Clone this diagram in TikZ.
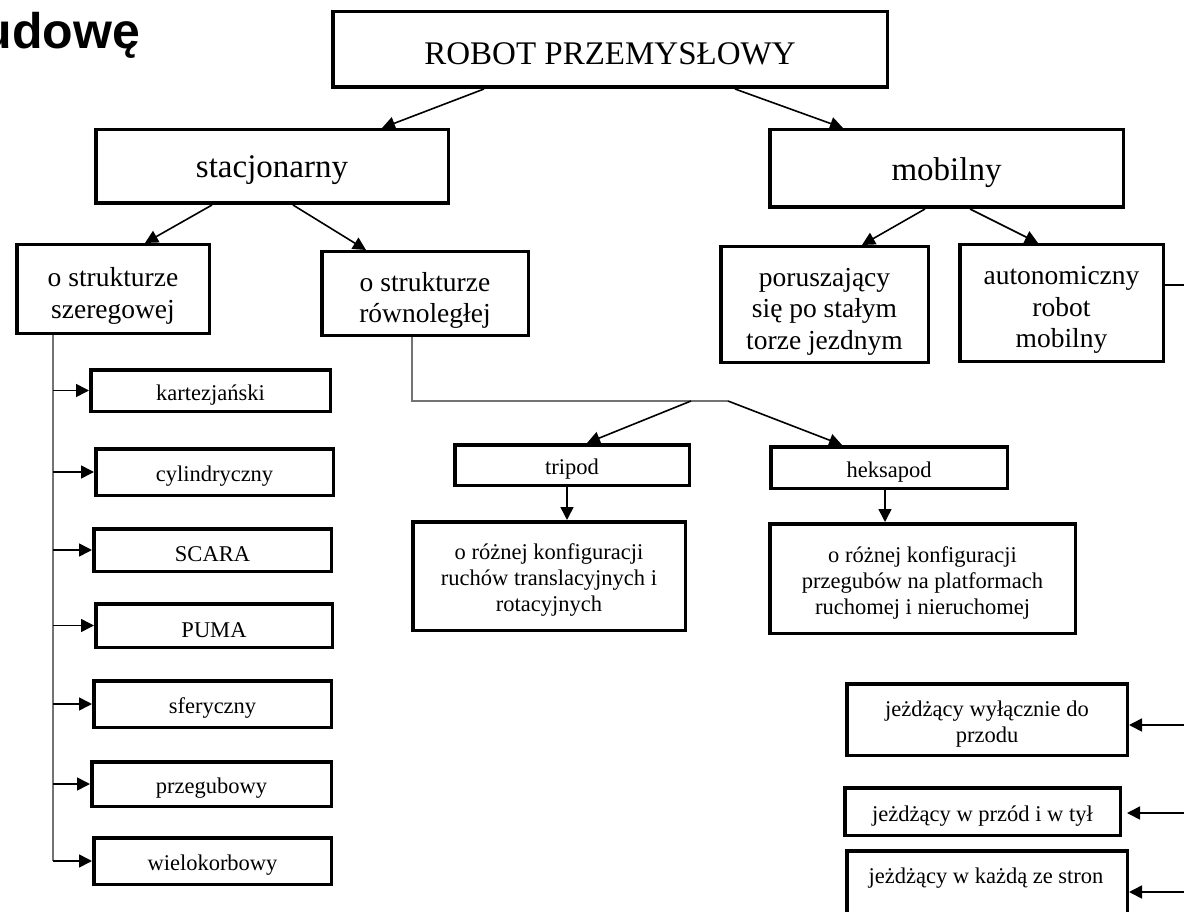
\documentclass[tikz,border=0pt]{standalone}
\usepackage{fontspec}
\setmainfont{Liberation Serif}
\newfontfamily\headsans{Liberation Sans}
\usetikzlibrary{arrows.meta}
\newcommand\mybox[7][]{%
  \node[box,minimum width={#5-#3-3.5},minimum height={#6-#4-3.5}] (#2) at ({(#3+#5)/2},{(#4+#6)/2}) {};%
  \node[txt,#1] (#2t) at (#2.center) {#7};}
\begin{document}
\begin{tikzpicture}[x=1pt,y=-1pt,
  box/.style={draw=black, line width=3.5pt, rectangle, inner sep=0pt, fill=white},
  txt/.style={inner sep=0pt, align=center},
  big/.style={font=\fontsize{33}{38}\selectfont, yshift=-4pt},
  mid/.style={font=\fontsize{27.5}{31.5}\selectfont, yshift=-7pt},
  sml/.style={font=\fontsize{22.5}{26}\selectfont, yshift=-4.5pt},
  arr/.style={draw=black, line width=1.6pt, -{Triangle[length=13pt,width=13pt]}},
  trunk/.style={draw=black!55, line width=2pt},
  conn/.style={draw=black, line width=1.6pt}]
\useasboundingbox (0,0) rectangle (1184,912);

\node[anchor=base east, inner sep=0pt, font=\headsans\bfseries\fontsize{50}{58}\selectfont] (title) at (140,49) {udowę};

\mybox[big]{robot}{331}{10}{889}{89}{ROBOT PRZEMYSŁOWY}
\mybox[big]{stac}{94}{128}{450}{205}{stacjonarny}
\mybox[big]{mob}{768}{128}{1125}{209}{mobilny}

\mybox[mid]{szer}{15}{243}{211}{335}{o strukturze\\szeregowej}
\mybox[mid]{rown}{320}{250}{530}{337}{o strukturze\\równoległej}
\mybox[mid]{por}{719}{245}{930}{364}{poruszający\\się po stałym\\torze jezdnym}
\mybox[mid]{aut}{958}{243}{1165}{363}{autonomiczny\\robot\\mobilny}

\mybox[sml]{kart}{89}{368}{332}{413}{kartezjański}
\mybox[sml]{cyl}{94}{447}{335}{497}{cylindryczny}
\mybox[sml]{scara}{92}{527}{333}{573}{SCARA}
\mybox[sml]{puma}{94}{602}{334}{649}{PUMA}
\mybox[sml]{sfer}{92}{679}{333}{729}{sferyczny}
\mybox[sml]{przeg}{90}{760}{333}{808}{przegubowy}
\mybox[sml]{wiel}{92}{836}{333}{886}{wielokorbowy}

\mybox[sml]{trip}{453}{443}{691}{487}{tripod}
\mybox[sml]{heks}{769}{445}{1009}{490}{heksapod}
\mybox[sml]{ro1}{411}{520}{687}{632}{o różnej konfiguracji\\ruchów translacyjnych i\\rotacyjnych}
\mybox[sml]{ro2}{768}{522}{1077}{635}{o różnej konfiguracji\\przegubów na platformach\\ruchomej i nieruchomej}

\mybox[sml]{jz1}{845}{682}{1129}{757}{jeżdżący wyłącznie do\\przodu}
\mybox[sml]{jz2}{843}{786}{1122}{837}{jeżdżący w przód i w tył}
\node[box, minimum width={1129-845-3.5}, minimum height=90] (jz3) at (987,896) {};
\node[txt, sml] (jz3t) at (986,874) {jeżdżący w każdą ze stron};

% top level connectors
\draw[arr] ([xshift=-126pt]robot.south) -- ([xshift=110pt]stac.north);
\draw[arr] ([xshift=125pt]robot.south) -- ([xshift=-103.5pt]mob.north);
\draw[arr] ([xshift=-60pt]stac.south) -- ([xshift=32pt]szer.north);
\draw[arr] ([xshift=21pt]stac.south) -- ([xshift=-59pt]rown.north);
\draw[arr] ([xshift=-21.5pt]mob.south) -- ([xshift=37.5pt]por.north);
\draw[arr] ([xshift=23.5pt]mob.south) -- ([xshift=-23.5pt]aut.north);

% serial list
\coordinate (tr) at (53,0);
\draw[trunk] (szer.south -| tr) -- (wiel.west -| tr);
\foreach \n in {kart,cyl,scara,puma,sfer,przeg,wiel}
  \draw[arr] (\n.west -| tr) -- (\n.west);

% parallel branch
\coordinate (hA) at (691,401);
\coordinate (hB) at (728,401);
\draw[trunk] ([xshift=-13pt]rown.south) |- (hB);
\draw[arr] (hA) -- ([xshift=15pt]trip.north);
\draw[arr] (hB) -- ([xshift=-47pt]heks.north);
\draw[arr] ([xshift=-5pt]trip.south) -- ([xshift=18pt]ro1.north);
\draw[arr] ([xshift=-4pt]heks.south) -- ([xshift=-37.5pt]ro2.north);

% mobile branch, right side
\coordinate (ae) at (1184,285);
\draw[conn] (aut.east |- ae) -- (ae);
\coordinate (j1) at (1184,725);
\coordinate (j2) at (1184,813);
\coordinate (j3) at (1184,892);
\draw[arr] (j1) -- (j1 -| jz1.east);
\draw[arr, shorten >=5pt] (j2) -- (j2 -| jz2.east);
\draw[arr] (j3) -- (j3 -| jz3.east);
\end{tikzpicture}
\end{document}
